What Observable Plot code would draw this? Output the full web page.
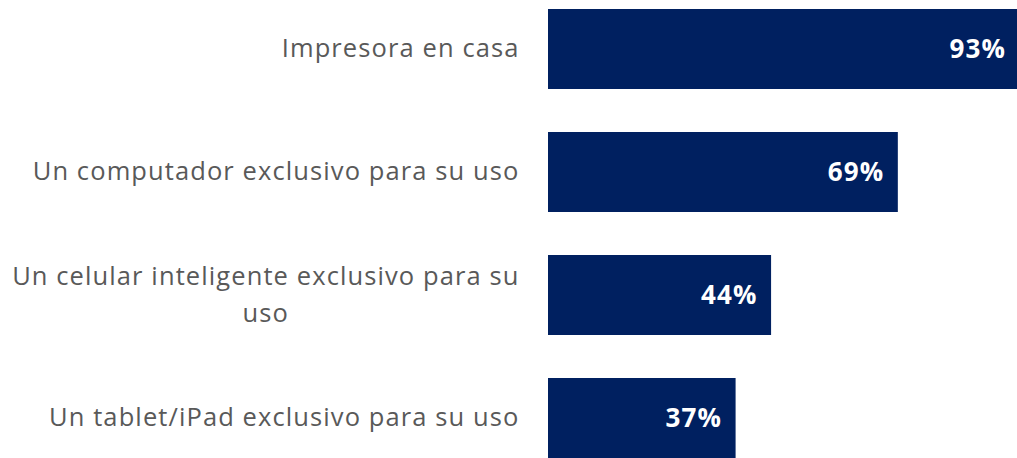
<!DOCTYPE html>
<html>
<head>
<meta charset="utf-8">
<script src="https://cdn.jsdelivr.net/npm/d3@7"></script>
<script src="https://cdn.jsdelivr.net/npm/@observablehq/plot@0.6"></script>
<style>
  html, body { margin: 0; padding: 0; background: #ffffff; }
  #chart { width: 1017px; height: 458px; overflow: hidden; }
</style>
</head>
<body>
<div id="chart"></div>
<script>
const categories = [
  "Impresora en casa",
  "Un computador exclusivo para su uso",
  "Un celular inteligente exclusivo para su\nuso",
  "Un tablet/iPad exclusivo para su uso"
];
const values = [93, 69, 44, 37];
const valueLabels = ["93%", "69%", "44%", "37%"];

const data = categories.map((c, i) => ({category: c, value: values[i], label: valueLabels[i]}));

const navy = "#002060";
const gray = "#595959";

const chart = Plot.plot({
  width: 1017,
  height: 458,
  marginLeft: 548,
  marginRight: 0,
  marginTop: 0,
  marginBottom: 0,
  style: {fontFamily: "'Open Sans', sans-serif", background: "#ffffff", letterSpacing: "1.1px", overflow: "hidden"},
  x: {domain: [0, 100], range: [548, 1055], axis: null},
  y: {domain: categories, range: [9, 458], paddingInner: 0.35, paddingOuter: 0, label: null},
  marks: [
    Plot.barX(data, {x: "value", y: "category", fill: navy}),
    Plot.text(data, {
      x: "value", y: "category", text: "label",
      textAnchor: "end", dx: -14, fill: "#ffffff",
      fontSize: 26, fontWeight: "bold", fontFamily: "'Open Sans', sans-serif"
    }),
    Plot.axisY({
      tickSize: 0, tickPadding: 29, dy: -4, fontSize: 25.5, fill: gray,
      lineHeight: 1.45, label: null
    })
  ]
});

document.getElementById("chart").appendChild(chart);

// Center wrapped lines within their right-aligned block (as in the original)
d3.select(chart).selectAll("text").each(function() {
  const tspans = this.querySelectorAll("tspan");
  if (tspans.length > 1) {
    const w = this.getBBox().width;
    this.setAttribute("text-anchor", "middle");
    tspans.forEach(t => t.setAttribute("x", -w / 2));
  }
});
</script>
</body>
</html>
